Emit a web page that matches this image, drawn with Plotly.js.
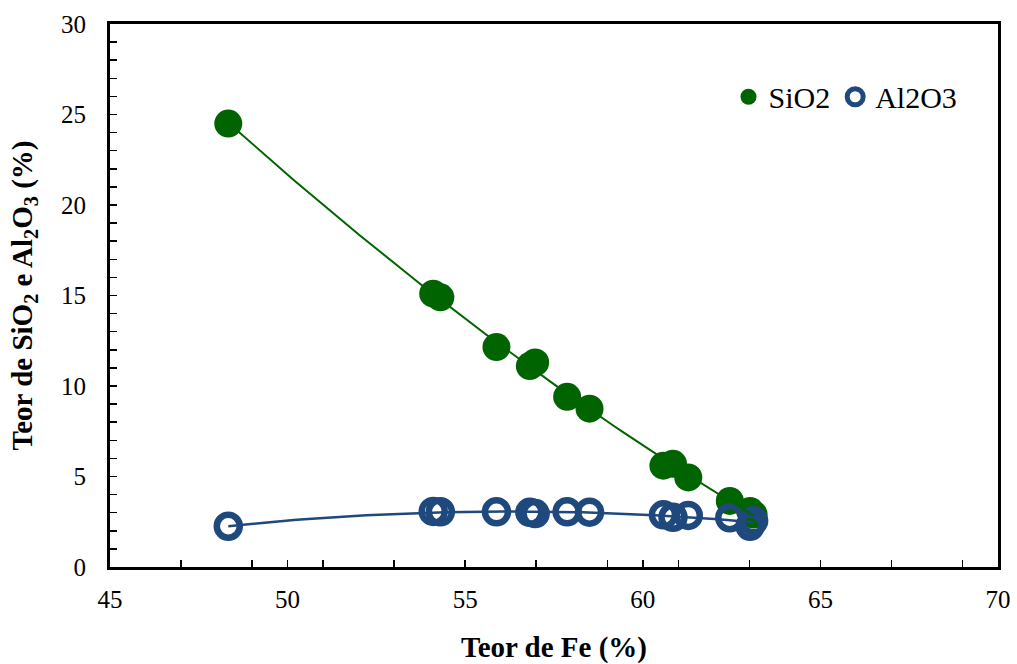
<!DOCTYPE html>
<html>
<head>
<meta charset="utf-8">
<script src="https://cdn.plot.ly/plotly-3.0.1.min.js"></script>
<style>html,body{margin:0;padding:0;background:#fff;}#chart{width:1017px;height:664px;}</style>
</head>
<body>
<div id="chart"></div>
<script>
// Data
const fe    = [48.33, 54.1, 54.3, 55.88, 56.82, 56.97, 57.87, 58.5, 60.58, 60.85, 61.28, 62.45, 63.02, 63.12];
const sio2  = [24.5, 15.1, 14.9, 12.15, 11.1, 11.3, 9.4, 8.75, 5.6, 5.7, 4.95, 3.65, 3.1, 2.9];
const al2o3 = [2.25, 3.07, 3.05, 3.05, 3.02, 2.95, 3.05, 3.03, 2.88, 2.75, 2.85, 2.72, 2.25, 2.55];
const xTicks = [45, 50, 55, 60, 65, 70];
const yTicks = [0, 5, 10, 15, 20, 25, 30];

// least squares polynomial fit (order-2 trendlines as in the reference)
function polyfit(xs, ys, deg) {
  const n = deg + 1;
  const A = Array.from({length: n}, () => new Array(n + 1).fill(0));
  for (let k = 0; k < xs.length; k++) {
    for (let i = 0; i < n; i++) {
      for (let j = 0; j < n; j++) A[i][j] += Math.pow(xs[k], i + j);
      A[i][n] += ys[k] * Math.pow(xs[k], i);
    }
  }
  for (let i = 0; i < n; i++) {
    let p = i;
    for (let r = i + 1; r < n; r++) if (Math.abs(A[r][i]) > Math.abs(A[p][i])) p = r;
    [A[i], A[p]] = [A[p], A[i]];
    for (let r = 0; r < n; r++) {
      if (r === i) continue;
      const f = A[r][i] / A[i][i];
      for (let c = i; c <= n; c++) A[r][c] -= f * A[i][c];
    }
  }
  return A.map((row, i) => row[n] / row[i]);
}
function curve(coef, x0, x1, steps) {
  const xs = [], ys = [];
  for (let s = 0; s <= steps; s++) {
    const x = x0 + (x1 - x0) * s / steps;
    xs.push(x);
    ys.push(coef.reduce((acc, c, i) => acc + c * Math.pow(x, i), 0));
  }
  return {xs, ys};
}
const xmin = Math.min(...fe), xmax = Math.max(...fe);
const fitS = curve(polyfit(fe, sio2, 2), xmin, xmax, 80);
const fitA = curve(polyfit(fe, al2o3, 2), xmin, xmax, 80);

const green = '#006400';
const blue = '#1F497D';
const serif = 'Times New Roman, Liberation Serif, serif';

const traces = [
  {x: fe, y: sio2, type: 'scatter', mode: 'markers', name: 'SiO2',
   marker: {symbol: 'circle', size: 28, color: green}},
  {x: fe, y: al2o3, type: 'scatter', mode: 'markers', name: 'Al2O3',
   marker: {symbol: 'circle-open', size: 23, color: blue, line: {width: 6.5, color: blue}}},
  {x: fitS.xs, y: fitS.ys, type: 'scatter', mode: 'lines', showlegend: false,
   line: {color: green, width: 2}, hoverinfo: 'skip'},
  {x: fitA.xs, y: fitA.ys, type: 'scatter', mode: 'lines', showlegend: false,
   line: {color: blue, width: 2.5}, hoverinfo: 'skip'}
];

const layout = {
  width: 1017, height: 664,
  margin: {l: 110, r: 19, t: 24, b: 97},
  paper_bgcolor: '#fff', plot_bgcolor: '#fff',
  font: {family: serif, color: '#000', size: 25},
  showlegend: true,
  legend: {x: 0.6965, y: 0.866, xanchor: 'left', yanchor: 'middle', orientation: 'h',
           font: {family: serif, size: 30, color: '#000'}, bgcolor: 'rgba(0,0,0,0)',
           itemwidth: 30, tracegroupgap: 0},
  xaxis: {range: [45, 70], tickvals: xTicks, ticktext: xTicks.map(String),
          showgrid: false, zeroline: false, showline: true, linecolor: '#000', linewidth: 3, mirror: true,
          ticks: 'inside', ticklen: 7, tickwidth: 1.5, tickcolor: '#000',
          minor: {ticks: 'inside', tick0: 45, dtick: 2, ticklen: 7, tickwidth: 1.5, tickcolor: '#000', showgrid: false},
          ticklabelstandoff: 8,
          tickfont: {family: serif, size: 25},
          title: {text: '<b>Teor de Fe (%)</b>', font: {family: serif, size: 29}, standoff: 42}},
  yaxis: {range: [0, 30], tickvals: yTicks, ticktext: yTicks.map(String),
          showgrid: false, zeroline: false, showline: true, linecolor: '#000', linewidth: 3, mirror: true,
          ticks: 'inside', ticklen: 7, tickwidth: 1.5, tickcolor: '#000',
          minor: {ticks: 'inside', tick0: 0, dtick: 1, ticklen: 7, tickwidth: 1.5, tickcolor: '#000', showgrid: false},
          ticklabelstandoff: 16,
          tickfont: {family: serif, size: 25},
          title: {text: '<b>Teor de SiO<sub>2</sub> e Al<sub>2</sub>O<sub>3</sub> (%)</b>', font: {family: serif, size: 29}, standoff: 20}}
};

Plotly.newPlot('chart', traces, layout, {displayModeBar: false, staticPlot: true});
</script>
</body>
</html>
